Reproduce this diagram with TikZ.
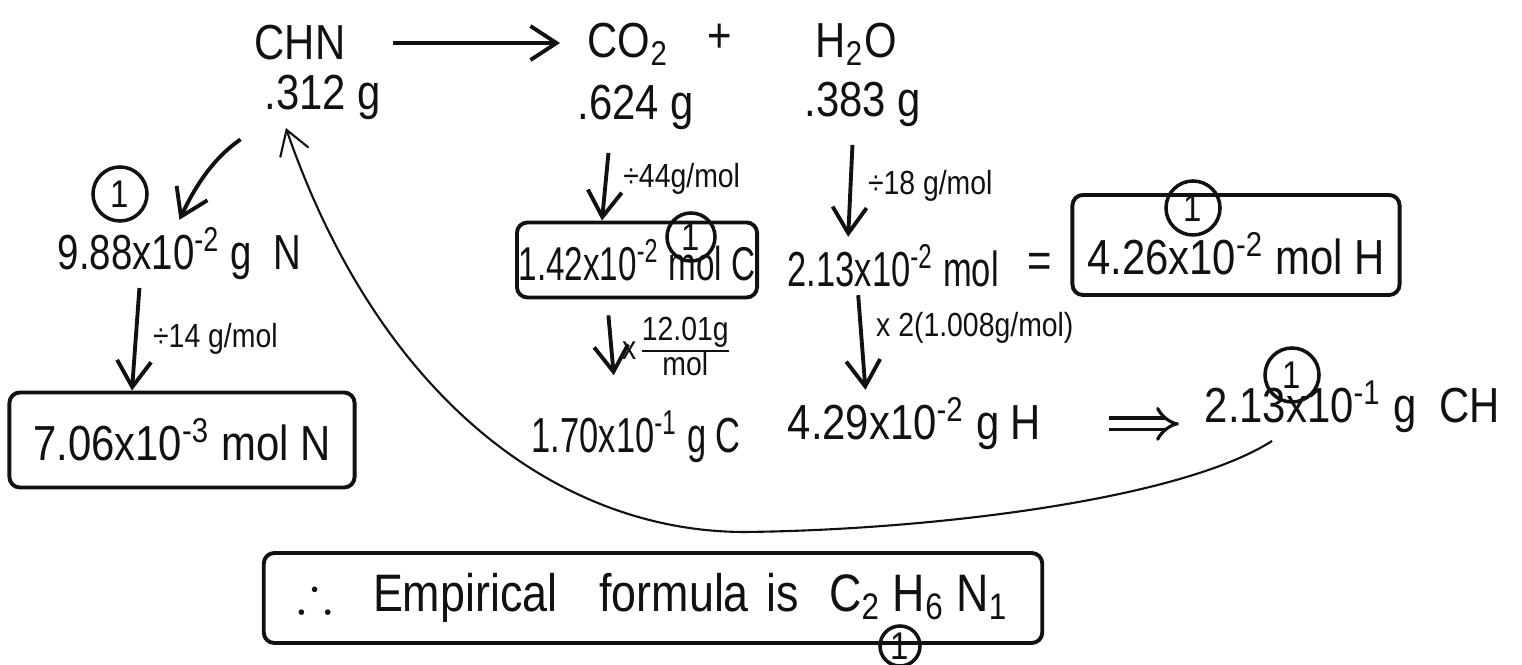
\documentclass[tikz,border=0pt]{standalone}
\usepackage{fontspec}
\usepackage{amssymb}
\setmainfont{Liberation Sans}[FakeStretch=0.85]
\newfontfamily\letraMedia{Liberation Sans}[FakeStretch=0.78]
\newfontfamily\letraEstrecha{Liberation Sans}[FakeStretch=0.7]
\usetikzlibrary{arrows.meta, positioning, calc}
\definecolor{tinta}{HTML}{111111}
\colorlet{colTinta}{tinta}
\tikzset{
  textoQuim/.style={font=\fontsize{14}{16}\selectfont, text=colTinta, inner sep=2pt},
  textoMedio/.style={textoQuim, font=\letraMedia\fontsize{14}{16}\selectfont},
  textoEstrecho/.style={textoQuim, font=\letraEstrecha\fontsize{14}{16}\selectfont},
  cajaRespuesta/.style={textoQuim, draw=colTinta, line width=1.1pt, rounded corners=3pt,
    inner sep=0pt, align=center},
  marcaPunto/.style={circle, draw=colTinta, line width=1pt, inner sep=0pt,
    minimum size=0.54cm, font=\fontsize{11}{12}\selectfont, text=colTinta},
  flecha/.style={-{Straight Barb[length=2.6mm, width=3.4mm]}, line width=1.1pt, colTinta},
  flechaFina/.style={-{Straight Barb[length=2.4mm, width=3mm]}, line width=0.6pt, colTinta},
  flechaImplica/.style={-{Implies}, double, double distance=2.4pt, line width=0.9pt, colTinta},
  etiquetaFlecha/.style={font=\fontsize{9.5}{11}\selectfont, text=colTinta, inner sep=1pt},
}

\begin{document}
\begin{tikzpicture}[x=0.01cm, y=-0.01cm]
    \useasboundingbox (0,0) rectangle (1522,665);

    \node[textoQuim, anchor=base west] (chn) at (247,60) {CHN};
    \node[textoQuim, anchor=base west] (co2) at (580,58) {CO\textsubscript{2}};
    \node[textoQuim] (mas) at (720,38) {+};
    \node[textoQuim, anchor=base west] (h2o) at (808,58) {H\textsubscript{2}O};
    \node[textoQuim, anchor=base west] (m312) at (257,110) {.312 g};
    \node[textoQuim, anchor=base west] (m624) at (570,120) {.624 g};
    \node[textoQuim, anchor=base west] (m383) at (797,117) {.383 g};

    \node[textoMedio, anchor=base west] (gN) at (50,270) {9.88x10\textsuperscript{-2} g \ N};
    \node[cajaRespuesta, minimum width=3.45cm, minimum height=0.95cm] (molN) at (182,440)
      {7.06x10\textsuperscript{-3} mol N};
    \node[cajaRespuesta, font=\letraEstrecha\fontsize{13.5}{16}\selectfont, minimum width=2.4cm,
      minimum height=0.75cm] (molC) at (637,260) {1.42x10\textsuperscript{-2} mol C};
    \node[textoEstrecho, anchor=base west] (molAgua) at (780,287) {2.13x10\textsuperscript{-2} mol};
    \node[textoQuim] (igual) at (1040,265) {=};
    \node[cajaRespuesta, minimum width=3.27cm, minimum height=1cm] (molH) at (1236,245)
      {\rule{0pt}{6mm}4.26x10\textsuperscript{-2} mol H};
    \node[textoEstrecho, anchor=base west] (gC) at (524,453) {1.70x10\textsuperscript{-1} g C};
    \node[textoQuim, anchor=base west] (gH) at (780,440) {4.29x10\textsuperscript{-2} g H};
    \node[textoQuim, anchor=base west] (gCH) at (1197,423) {2.13x10\textsuperscript{-1} g \ CH};
    \node[cajaRespuesta, font=\fontsize{15}{18}\selectfont, minimum width=7.78cm,
      minimum height=0.9cm] (formula) at (653,598)
      {$\therefore$\hspace{4mm}Empirical\hspace{4.2mm}formula\hspace{1.8mm}is\hspace{3mm}C\textsubscript{2}\hspace{1.2mm}H\textsubscript{6}\hspace{1.2mm}N\textsubscript{1}};

    \node[marcaPunto] (puntoN) at (120,194) {1};
    \node[marcaPunto, minimum size=0.48cm] (puntoC) at (691,237) {1};
    \node[marcaPunto] (puntoH) at (1193,208) {1};
    \node[marcaPunto] (puntoCH) at (1292,375) {1};
    \node[marcaPunto, minimum size=0.4cm] (puntoFormula) at (900,646) {1};

    \coordinate (fondo) at (745,532);

    \draw[flecha, shorten <=4mm, shorten >=2mm] (chn.east) -- (chn.east -| co2.west);
    \draw[flecha, shorten <=2mm] (m312.south west) to[bend right=15] (gN.north);
    \draw[flecha] ([xshift=-4mm]gN.south) -- ([xshift=-5mm]molN.north)
      node[etiquetaFlecha, midway, right=1.2mm] {÷14 g/mol};
    \draw[flecha, shorten <=1.5mm] ([xshift=-2.6mm]m624.south) -- ([xshift=-3.5mm]molC.north)
      node[etiquetaFlecha, midway, right=1.2mm] {÷44g/mol};
    \draw[flecha, shorten <=1mm] ([xshift=-1mm]m383.south) -- ([xshift=-4.5mm]molAgua.north)
      node[etiquetaFlecha, midway, right=1.2mm] {÷18 g/mol};
    \draw[flecha, shorten <=1.6mm, shorten >=2.8mm] ([xshift=-3mm]molC.south) -- ([xshift=-2mm]gC.north)
      node[etiquetaFlecha, midway, right=0.5mm] {x\,{\renewcommand\arraystretch{0.85}\begin{tabular}{@{}c@{}}12.01g\\\hline mol\end{tabular}}};
    \draw[flecha] ([xshift=-3.5mm]molAgua.south) -- ([xshift=-4.9mm]gH.north)
      node[etiquetaFlecha, pos=0.35, right=1mm] {x 2(1.008g/mol)};
    \draw[flechaImplica, shorten <=6mm, shorten >=1.8mm] (gH.east) -- (gH.east -| gCH.west);
    \draw[flechaFina] ([xshift=7.5mm]gCH.south west) .. controls (1180,500) and (930,530) .. (fondo)
      .. controls (560,532) and (380,400) .. ([xshift=-3.7mm]m312.south);
\end{tikzpicture}
\end{document}
